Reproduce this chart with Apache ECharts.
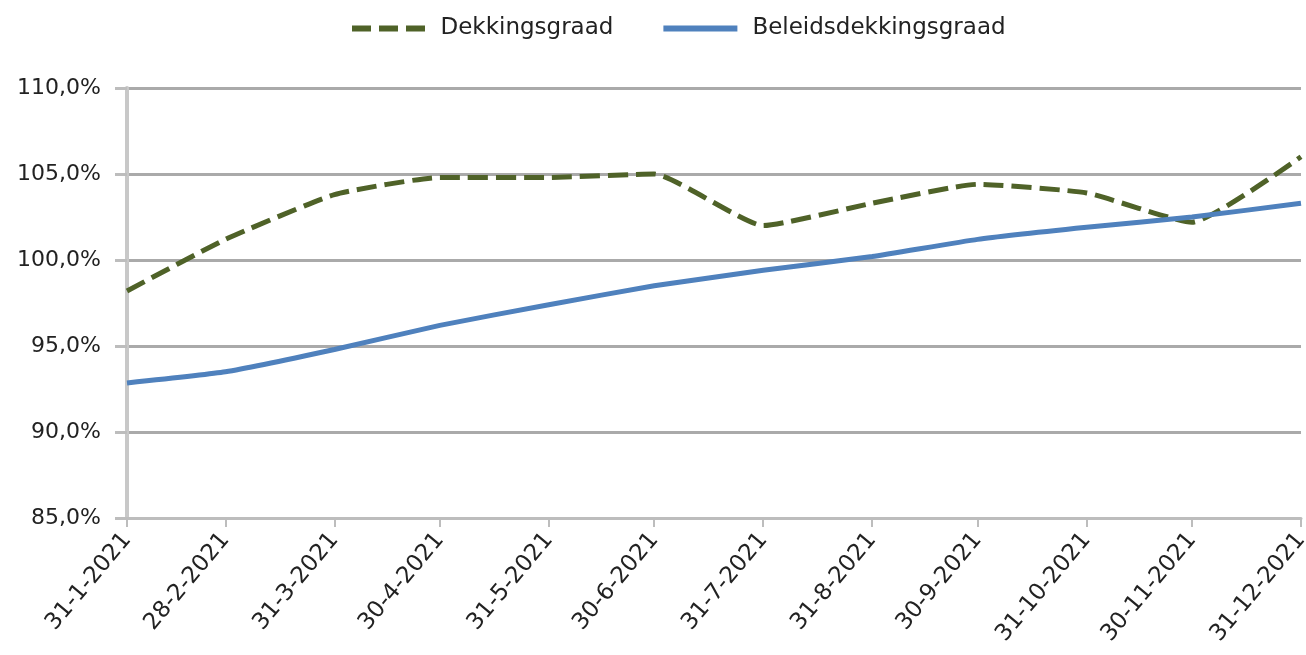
<!DOCTYPE html>
<html>
<head>
<meta charset="utf-8">
<title>Dekkingsgraad 2021</title>
<script src="https://cdn.jsdelivr.net/npm/echarts@6/dist/echarts.min.js"></script>
<style>
  html, body { margin: 0; padding: 0; background: #fff; }
  #chart { width: 1306px; height: 655px; }
</style>
</head>
<body>
<div id="chart"></div>
<script>
// maand-einde datums (tick labels)
const dateLabels = ['31-1-2021', '28-2-2021', '31-3-2021', '30-4-2021', '31-5-2021', '30-6-2021',
  '31-7-2021', '31-8-2021', '30-9-2021', '31-10-2021', '30-11-2021', '31-12-2021'];
const dekkingsgraad = [98.2, 101.2, 103.8, 104.8, 104.8, 105.0, 102.0, 103.3, 104.4, 103.9, 102.2, 106.0];
const beleidsdekkingsgraad = [92.85, 93.5, 94.8, 96.2, 97.4, 98.5, 99.4, 100.2, 101.2, 101.9, 102.5, 103.3];
const yTicks = [85, 90, 95, 100, 105, 110];

// dag-nummer in het jaar, zodat de as net als in Excel een datum-as is
function dayOfYear(s) {
  const p = s.split('-').map(Number);
  return Math.round((Date.UTC(p[2], p[1] - 1, p[0]) - Date.UTC(p[2], 0, 1)) / 86400000);
}
const days = dateLabels.map(dayOfYear);
const labelByDay = {};
days.forEach((d, i) => { labelByDay[d] = dateLabels[i]; });

const chart = echarts.init(document.getElementById('chart'));
const font = '"DejaVu Sans", Verdana, sans-serif';

const option = {
  animation: false,
  legend: {
    top: 12,
    left: 347,
    itemWidth: 74,
    itemHeight: 6,
    itemGap: 50,
    textStyle: { fontFamily: font, fontSize: 23, color: '#222', padding: [0, 0, 0, 10] },
    data: [
      { name: 'Dekkingsgraad', icon: 'path://M0,0H19V6H0Z M27,0H46V6H27Z M54,0H73V6H54Z' },
      { name: 'Beleidsdekkingsgraad', icon: 'path://M0,0H74V6H0Z' }
    ]
  },
  grid: { left: 127, right: 5, top: 88, bottom: 137, outerBoundsMode: 'none' },
  xAxis: {
    type: 'value',
    min: days[0],
    max: days[days.length - 1],
    axisLine: { lineStyle: { color: '#bdbdbd', width: 3 } },
    axisTick: { show: true, length: 9, customValues: days, lineStyle: { color: '#bdbdbd', width: 2 } },
    axisLabel: {
      customValues: days,
      rotate: 50,
      margin: 18,
      fontFamily: font,
      fontSize: 23,
      color: '#222',
      formatter: function (v) { return labelByDay[Math.round(v)] || ''; }
    },
    splitLine: { show: false }
  },
  yAxis: {
    type: 'value',
    min: yTicks[0],
    max: yTicks[yTicks.length - 1],
    interval: 5,
    axisLine: { show: true, lineStyle: { color: '#c8c8c8', width: 4 } },
    axisTick: { show: true, length: 12, lineStyle: { color: '#bdbdbd', width: 3 } },
    axisLabel: {
      fontFamily: font,
      fontSize: 22,
      color: '#222',
      margin: 26,
      formatter: function (v) { return v.toFixed(1).replace('.', ',') + '%'; }
    },
    splitLine: { lineStyle: { color: '#aaaaaa', width: 3 } }
  },
  series: [
    {
      name: 'Dekkingsgraad',
      type: 'line',
      symbol: 'none',
      smooth: 0.15,
      lineStyle: { color: '#4f6228', width: 5, type: [20, 8] },
      itemStyle: { color: '#4f6228' },
      data: days.map((d, i) => [d, dekkingsgraad[i]])
    },
    {
      name: 'Beleidsdekkingsgraad',
      type: 'line',
      symbol: 'none',
      smooth: 0.15,
      lineStyle: { color: '#4f81bd', width: 5 },
      itemStyle: { color: '#4f81bd' },
      data: days.map((d, i) => [d, beleidsdekkingsgraad[i]])
    }
  ]
};
chart.setOption(option);
</script>
</body>
</html>
